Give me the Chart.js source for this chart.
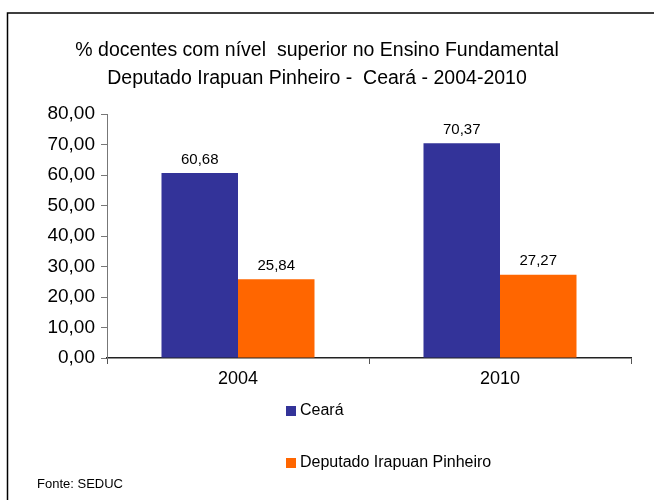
<!DOCTYPE html>
<html>
<head>
<meta charset="utf-8">
<script src="https://cdn.jsdelivr.net/npm/chart.js@4"></script>
<style>
  html, body { margin: 0; padding: 0; background: #fff; }
  #wrap { width: 654px; height: 500px; }
</style>
</head>
<body>
<div id="wrap"><canvas id="chartCanvas" width="654" height="500"></canvas></div>
<script>
"use strict";

const years = ['2004', '2010'];
const cearaValues = [60.68, 70.37];
const deputadoValues = [25.84, 27.27];
const seriesNames = ['Ceará', 'Deputado Irapuan Pinheiro'];
const titleLines = ['% docentes com nível  superior no Ensino Fundamental',
                    'Deputado Irapuan Pinheiro -  Ceará - 2004-2010'];
const sourceText = 'Fonte: SEDUC';

const FONT = '"Liberation Sans", Arial, sans-serif';
const fmt = v => v.toFixed(2).replace('.', ',');

// frame, title, bar values, legend and source are painted by hand
const decor = {
    id: 'decor',
    afterDraw(chart) {
        const c = chart.ctx;
        c.save();
        c.strokeStyle = '#000';
        c.lineWidth = 1.5;
        c.beginPath();
        c.moveTo(654, 13);
        c.lineTo(7.5, 13);
        c.lineTo(7.5, 500);
        c.stroke();

        c.fillStyle = '#000';
        c.textAlign = 'center';
        c.textBaseline = 'middle';
        c.font = '19.5px ' + FONT;
        c.fillText(titleLines[0], 317, 51);
        c.fillText(titleLines[1], 317, 79);

        c.font = '15px ' + FONT;
        c.textBaseline = 'bottom';
        chart.data.datasets.forEach((ds, i) => {
            chart.getDatasetMeta(i).data.forEach((bar, j) => {
                c.fillText(fmt(ds.data[j]), bar.x, bar.y - 6);
            });
        });

        c.textAlign = 'left';
        c.textBaseline = 'middle';
        c.font = '16px ' + FONT;
        const legY = [411, 463];
        chart.data.datasets.forEach((ds, i) => {
            c.fillStyle = ds.backgroundColor;
            c.fillRect(286, legY[i] - 5, 10, 10);
            c.fillStyle = '#000';
            c.fillText(ds.label, 300, legY[i]);
        });

        c.font = '13px ' + FONT;
        c.fillText(sourceText, 37, 484);
        c.restore();
    }
};

const ctx = document.getElementById('chartCanvas').getContext('2d');
const chart = new Chart(ctx, {
    type: 'bar',
    data: {
        labels: years,
        datasets: [{
            label: seriesNames[0],
            data: cearaValues,
            backgroundColor: '#333399'
        }, {
            label: seriesNames[1],
            data: deputadoValues,
            backgroundColor: '#FF6600'
        }]
    },
    options: {
        responsive: false,
        animation: false,
        layout: {
            padding: { top: 114, left: 0, right: 23, bottom: 102 }
        },
        datasets: {
            bar: { categoryPercentage: 0.584, barPercentage: 1.0 }
        },
        plugins: {
            legend: { display: false },
            title: { display: false },
            tooltip: { enabled: false }
        },
        scales: {
            x: {
                afterFit: s => { s.height = 40; },
                grid: {
                    drawOnChartArea: false,
                    drawTicks: true,
                    tickLength: 6,
                    color: '#555'
                },
                border: { color: '#222', width: 1.5 },
                ticks: {
                    color: '#000',
                    font: { family: FONT, size: 18 },
                    padding: 4
                }
            },
            y: {
                min: 0,
                max: 80,
                afterFit: s => { s.width = 107; },
                grid: {
                    drawOnChartArea: false,
                    drawTicks: true,
                    tickLength: 6,
                    color: '#777'
                },
                border: { color: '#777', width: 1 },
                ticks: {
                    stepSize: 10,
                    color: '#000',
                    padding: 6,
                    font: { family: FONT, size: 19 },
                    callback: v => fmt(v)
                }
            }
        }
    },
    plugins: [decor]
});
</script>
</body>
</html>
